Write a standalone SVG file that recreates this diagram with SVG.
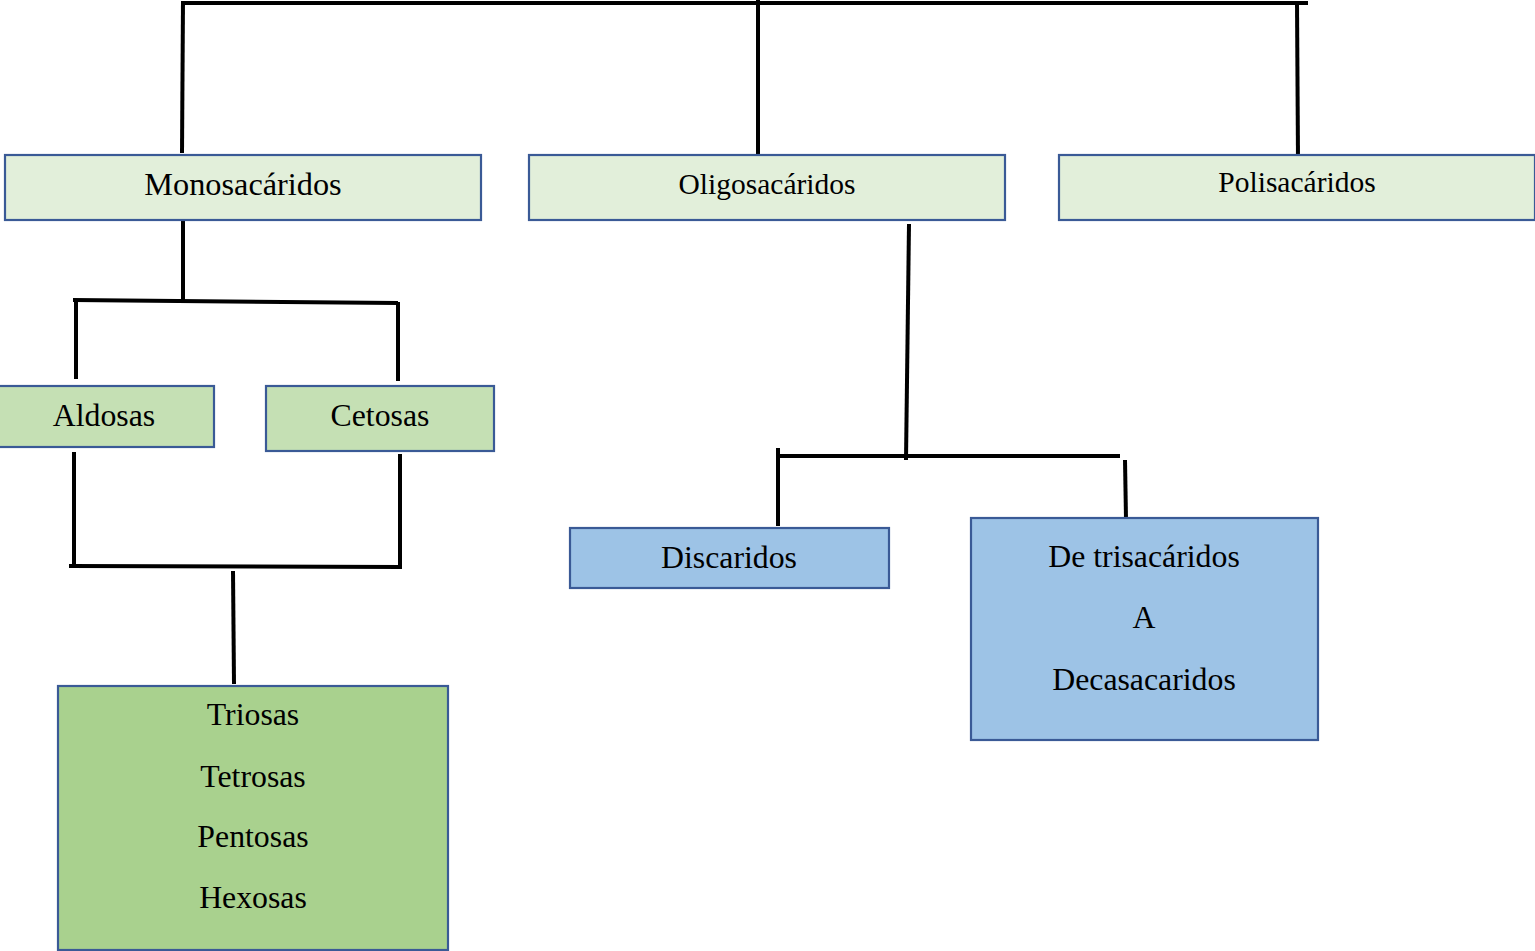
<svg xmlns="http://www.w3.org/2000/svg" width="1535" height="951" viewBox="0 0 1535 951">
<style>
.box{stroke:#3a5a96;stroke-width:2.2}
.l1{fill:#e2efda}
.l2{fill:#c5e0b4}
.l3{fill:#a9d18e}
.bl{fill:#9dc3e6}
text{font-family:"Liberation Serif","Times New Roman",serif;font-size:31.8px;fill:#000;text-anchor:middle}
.c line{stroke:#000;stroke-width:4;stroke-linecap:butt}
</style>
<rect width="1535" height="951" fill="#fff"/>
<g id="connectors" class="c">
<line x1="181" y1="3" x2="1308" y2="3"/>
<line x1="183" y1="1" x2="182" y2="153"/>
<line x1="758" y1="0" x2="758" y2="156"/>
<line x1="1297" y1="3" x2="1298" y2="160"/>
<line x1="183" y1="221" x2="183" y2="301"/>
<line x1="73" y1="300" x2="398" y2="303"/>
<line x1="76" y1="300" x2="76" y2="379"/>
<line x1="398" y1="302" x2="398" y2="381"/>
<line x1="74" y1="452" x2="74" y2="567"/>
<line x1="400" y1="454" x2="400" y2="569"/>
<line x1="69" y1="566" x2="401" y2="567"/>
<line x1="233" y1="571" x2="234" y2="684"/>
<line x1="909" y1="224" x2="906" y2="460"/>
<line x1="780" y1="456" x2="1120" y2="456"/>
<line x1="778" y1="448" x2="778" y2="526"/>
<line x1="1125" y1="460" x2="1126" y2="519"/>
</g>
<g id="monosacaridos"><rect class="box l1" x="5" y="155" width="476" height="65"/><text x="243" y="195" style="font-size:32.3px">Monosacáridos</text></g>
<g id="oligosacaridos"><rect class="box l1" x="529" y="155" width="476" height="65"/><text x="767" y="194" style="font-size:29.5px">Oligosacáridos</text></g>
<g id="polisacaridos"><rect class="box l1" x="1059" y="155" width="476" height="65"/><text x="1297" y="192" style="font-size:29.5px">Polisacáridos</text></g>
<g id="aldosas"><rect class="box l2" x="-2" y="386" width="216" height="61"/><text x="104" y="426">Aldosas</text></g>
<g id="cetosas"><rect class="box l2" x="266" y="386" width="228" height="65"/><text x="380" y="426">Cetosas</text></g>
<g id="tipos"><rect class="box l3" x="58" y="686" width="390" height="264"/>
<text x="253" y="725">Triosas</text>
<text x="253" y="787">Tetrosas</text>
<text x="253" y="847">Pentosas</text>
<text x="253" y="908">Hexosas</text></g>
<g id="discaridos"><rect class="box bl" x="570" y="528" width="319" height="60"/><text x="729" y="568">Discaridos</text></g>
<g id="trisacaridos"><rect class="box bl" x="971" y="518" width="347" height="222"/>
<text x="1144" y="567">De trisacáridos</text>
<text x="1144" y="628">A</text>
<text x="1144" y="690">Decasacaridos</text></g>
</svg>
